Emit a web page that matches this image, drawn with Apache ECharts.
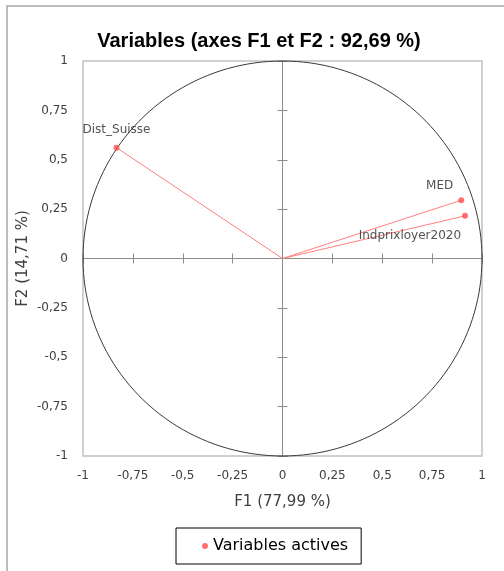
<!DOCTYPE html>
<html><head><meta charset="utf-8">
<script src="https://cdn.jsdelivr.net/npm/echarts@6/dist/echarts.min.js"></script>
<style>html,body{margin:0;padding:0;background:#fff}#c{width:504px;height:571px}</style>
</head><body><div id="c"></div>
<script>
const varNames = ['Dist_Suisse', 'MED', 'Indprixloyer2020'];
const f1Values = [-0.832, 0.896, 0.915];
const f2Values = [0.561, 0.295, 0.216];
const tickValues = [-1, -0.75, -0.5, -0.25, 0, 0.25, 0.5, 0.75, 1];
const titleText = 'Variables (axes F1 et F2 : 92,69 %)';
const xName = 'F1 (77,99 %)';
const yName = 'F2 (14,71 %)';
const legendName = 'Variables actives';
const labelPositions = ['top', 'left-up', 'left-down'];

const fmt = v => String(v).replace('.', ',');
const chart = echarts.init(document.getElementById('c'), null, {renderer: 'canvas'});
const gridRect = {left: 83, top: 61, width: 399, height: 395};
const FONT = 'DejaVu Sans';
const TFONT = 'Liberation Sans';
const axMin = tickValues[0], axMax = tickValues[tickValues.length - 1], axInt = tickValues[1] - tickValues[0];

function baseAxis(extra) {
  return Object.assign({type: 'value', min: axMin, max: axMax, interval: axInt,
    splitLine: {show: false}}, extra);
}

const pointData = varNames.map((n, i) => {
  const p = labelPositions[i];
  let label;
  if (p === 'top') label = {position: 'top', distance: 9};
  else if (p === 'left-up') label = {position: 'left', offset: [0, -14]};
  else label = {position: 'left', offset: [4, 20]};
  return {name: n, value: [f1Values[i], f2Values[i]], label};
});

const vectorSeries = varNames.map((n, i) => ({
  type: 'line', xAxisIndex: 0, yAxisIndex: 0, silent: true,
  data: [[0, 0], [f1Values[i], f2Values[i]]],
  symbol: 'none', lineStyle: {color: '#ff8080', width: 1}, z: 3
}));

const circleSeries = {
  type: 'custom', xAxisIndex: 0, yAxisIndex: 0, silent: true, z: 2,
  data: [[0, 0]],
  renderItem: function (params, api) {
    const pts = [];
    for (let k = 0; k <= 360; k += 2) {
      const a = k * Math.PI / 180;
      pts.push(api.coord([Math.cos(a), Math.sin(a)]));
    }
    return {type: 'polyline', shape: {points: pts},
      style: {stroke: '#3a3a3a', lineWidth: 1, fill: null}};
  }
};

const option = {
  animation: false,
  backgroundColor: '#fff',
  graphic: [{type: 'rect', shape: {x: 7, y: 6, width: 600, height: 600},
    style: {stroke: '#a6a6a6', lineWidth: 1.5, fill: null}, silent: true, z: -10}],
  title: {text: titleText, left: 254, textAlign: 'center', top: 26,
    textStyle: {fontFamily: TFONT, fontWeight: 'bold', fontSize: 20, color: '#000'}},
  grid: [Object.assign({show: true, borderColor: '#d0d0d0', borderWidth: 2, backgroundColor: 'transparent'}, gridRect),
         Object.assign({show: false}, gridRect)],
  xAxis: [
    baseAxis({gridIndex: 0, position: 'bottom', axisLine: {show: false, onZero: false}, axisTick: {show: false},
      axisLabel: {formatter: fmt, margin: 14, fontFamily: FONT, fontSize: 12, color: '#404040'},
      name: xName, nameLocation: 'middle', nameGap: 39, nameMoveOverlap: false,
      nameTextStyle: {fontFamily: FONT, fontSize: 15, color: '#404040'}}),
    baseAxis({gridIndex: 0, position: 'top', axisLine: {show: true, onZero: true, lineStyle: {color: '#8c8c8c', width: 1}},
      axisTick: {show: true, length: 5, inside: false, lineStyle: {color: '#8c8c8c'}}, axisLabel: {show: false}}),
    baseAxis({gridIndex: 1, position: 'top', axisLine: {show: true, onZero: true, lineStyle: {color: '#8c8c8c', width: 1}},
      axisTick: {show: true, length: 5, inside: true, lineStyle: {color: '#8c8c8c'}}, axisLabel: {show: false}})
  ],
  yAxis: [
    baseAxis({gridIndex: 0, position: 'left', axisLine: {show: false, onZero: false}, axisTick: {show: false},
      axisLabel: {formatter: fmt, margin: 15, fontFamily: FONT, fontSize: 12, color: '#404040'},
      name: yName, nameLocation: 'middle', nameGap: 52, nameRotate: 90, nameMoveOverlap: false,
      nameTextStyle: {fontFamily: FONT, fontSize: 15, color: '#404040'}}),
    baseAxis({gridIndex: 0, position: 'right', axisLine: {show: true, onZero: true, lineStyle: {color: '#8c8c8c', width: 1}},
      axisTick: {show: true, length: 5, inside: false, lineStyle: {color: '#8c8c8c'}}, axisLabel: {show: false}}),
    baseAxis({gridIndex: 1, position: 'right', axisLine: {show: true, onZero: true, lineStyle: {color: '#8c8c8c', width: 1}},
      axisTick: {show: true, length: 5, inside: true, lineStyle: {color: '#8c8c8c'}}, axisLabel: {show: false}})
  ],
  legend: {data: [{name: legendName, icon: 'circle'}], left: 176, top: 528,
    padding: [10, 13, 10, 26], itemWidth: 6, itemHeight: 6, itemGap: 8,
    borderColor: '#000', borderWidth: 1,
    textStyle: {fontFamily: FONT, fontSize: 16, color: '#000'}},
  series: [circleSeries].concat(vectorSeries).concat([{
    type: 'scatter', name: legendName, xAxisIndex: 0, yAxisIndex: 0, z: 5,
    symbol: 'circle', symbolSize: 6, itemStyle: {color: '#ff4d4d'},
    label: {show: true, formatter: '{b}', fontFamily: FONT, fontSize: 12, color: '#262626'},
    data: pointData
  }])
};
chart.setOption(option);
</script></body></html>
